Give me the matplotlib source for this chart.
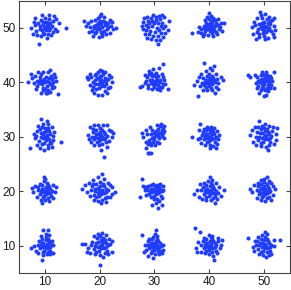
import matplotlib
matplotlib.use("Agg")
import matplotlib.pyplot as plt
import numpy as np

# cluster centres (x, y) and per-cluster point offsets
centers_x = [10, 20, 30, 40, 50]
centers_y = [50, 40, 30, 20, 10]
xticks = [10, 20, 30, 40, 50]
yticks = [10, 20, 30, 40, 50]

c10_50 = [(0,0),(0.5,0.3),(-0.4,0.6),(0.8,-0.5),(-0.9,-0.2),(0.2,1.1),(-0.3,-0.9),(1.2,0.4),(-1.3,0.8),(0.6,-1.2),(-0.7,1.5),(1.5,1.3),(-1.6,-0.6),(0.1,-0.4),(0.9,0.9),(-0.2,0.2),(0.4,-0.1),(-1.0,0.3),(1.8,-0.2),(-2.0,1.0),(-2.6,0.0),(2.5,0.9),(3.8,0.0),(-1.1,-2.9),(-0.5,2.4),(0.7,2.3),(1.6,2.1),(-1.8,1.8),(0.3,-1.8),(-0.8,-1.6),(1.1,-1.4),(2.0,1.6),(-2.2,-1.1),(0.0,1.8),(-0.1,-1.2),(1.4,-0.8),(-1.4,-1.3),(0.5,0.8),(-0.6,-0.4),(1.0,0.0),(-1.9,0.5),(2.2,-0.6),(0.3,0.5),(-0.4,1.0),(0.8,1.6)]
c20_50 = [(0,0),(0.4,0.2),(-0.5,-0.3),(0.9,0.5),(-1.0,0.4),(0.2,-0.8),(-0.3,0.9),(1.3,-0.2),(-1.4,-0.6),(0.6,1.2),(-0.8,1.4),(1.6,0.8),(-1.7,0.1),(2.1,0.3),(-2.2,0.9),(-2.9,1.2),(2.9,0.0),(2.5,-0.3),(0.2,2.6),(0.0,2.1),(-0.4,1.8),(0.7,1.9),(-1.2,-1.5),(0.5,-1.6),(1.1,-1.2),(-0.2,-1.7),(1.9,-0.9),(-2.0,-0.8),(0.3,0.6),(-0.6,0.5),(1.0,1.0),(-1.1,-0.1),(1.5,0.1),(-0.1,-0.3),(0.8,-0.6),(-0.9,-1.0),(2.3,1.0),(-1.6,1.3),(0.1,1.3),(1.8,1.4),(-0.7,-0.7),(0.4,-1.1),(-2.5,0.3),(1.2,0.6),(-0.3,0.3)]
c30_50 = [(-1.5,0.5),(-1.2,1.3),(-0.6,1.8),(0.3,2.0),(1.0,1.6),(1.4,0.9),(1.5,0.0),(1.2,-0.9),(0.6,-1.5),(-0.3,-1.6),(-1.0,-1.2),(-1.6,-0.4),(-2.2,0.3),(-2.0,1.0),(-0.2,2.3),(0.8,2.2),(1.8,1.9),(2.7,1.2),(2.4,-0.4),(0.7,-3.0),(0.3,-2.3),(-0.6,-2.0),(1.6,-1.7),(-1.8,-1.2),(0.0,0.9),(-0.4,0.4),(0.5,0.0),(0.9,-0.5),(-0.8,-0.6),(0.1,-0.7),(-1.1,0.1),(0.6,0.8),(1.9,0.4),(-1.9,1.7),(-1.4,2.0),(1.3,2.4),(0.2,1.4),(-0.5,1.2),(1.0,-2.2),(-1.3,-1.9),(2.0,-1.0),(-2.1,-0.3),(1.2,0.3),(-0.9,0.9)]
c40_50 = [(0,0),(0.4,0.3),(-0.3,-0.2),(0.9,-0.4),(-0.8,-0.6),(0.2,0.8),(0.6,1.2),(-0.1,1.6),(0.3,2.2),(0.0,2.7),(-0.4,2.0),(0.8,1.8),(1.3,0.9),(1.7,0.5),(2.2,0.8),(2.7,0.9),(1.9,-0.3),(1.2,-0.8),(0.5,-1.0),(-0.2,-1.3),(-1.0,-1.1),(-1.5,-0.9),(-2.0,-0.7),(-3.2,-0.9),(-1.4,-0.2),(-1.0,0.4),(-0.6,0.9),(1.0,0.3),(0.1,-0.6),(-0.5,0.3),(1.5,-1.2),(0.8,-1.5),(-1.8,0.2),(2.4,-0.6),(0.5,0.6),(1.1,1.4),(-0.2,0.5),(0.7,-0.1),(-1.2,-1.5),(1.6,1.6),(-0.7,1.4),(0.3,-0.3),(2.0,0.2),(-0.9,-0.1)]
c50_50 = [(0,0),(0.3,0.4),(-0.4,-0.3),(0.8,-0.5),(-0.9,0.6),(0.1,1.1),(-0.2,-1.0),(1.2,0.7),(-1.3,-0.8),(0.6,1.6),(-0.7,2.9),(-0.5,2.3),(0.2,2.5),(0.9,2.0),(1.5,1.4),(1.9,0.3),(2.1,-0.4),(1.6,-1.2),(0.8,-1.8),(0.1,-1.5),(-0.9,-1.7),(-1.5,-2.0),(-2.0,-1.2),(-2.1,0.2),(-1.7,1.1),(-1.2,1.7),(-0.3,1.7),(0.5,0.2),(-0.6,0.1),(1.0,-0.1),(-1.1,-0.2),(0.4,-0.8),(1.4,-0.6),(-0.4,0.8),(0.7,0.9),(1.8,1.8),(-1.6,0.5),(1.1,1.2),(0.0,-0.5),(-0.8,-1.2),(1.9,-1.7),(-0.1,0.5),(0.3,-2.0)]

c10_40 = [(0,0),(0.4,0.3),(-0.5,-0.4),(0.9,-0.3),(-1.0,0.5),(0.2,1.0),(-0.3,-1.0),(1.3,0.6),(-1.4,-0.7),(0.6,-1.4),(-0.7,1.5),(1.6,1.5),(-1.8,1.1),(-3.2,0.0),(2.3,-2.1),(1.0,2.3),(0.5,1.9),(-0.4,1.8),(-1.2,1.9),(1.7,-0.8),(2.0,0.2),(1.9,1.0),(-2.0,-0.2),(-1.6,-1.3),(-0.8,-1.9),(0.1,-1.9),(0.9,-1.7),(-2.3,0.8),(0.7,0.7),(-0.6,0.3),(0.3,-0.6),(-0.2,0.6),(1.2,-1.0),(-1.1,-0.1),(1.5,0.1),(0.0,-1.3),(-0.9,1.0),(0.8,0.1),(-1.5,0.3),(1.1,1.2),(-0.4,-1.4),(0.4,-1.9),(-2.5,1.6),(1.3,-0.5)]
c20_40 = [(0,0),(0.3,0.5),(-0.4,-0.3),(0.8,-0.6),(-0.9,0.4),(0.1,1.2),(-0.2,-1.1),(1.2,0.3),(-1.2,-0.8),(0.6,1.5),(-0.6,1.6),(1.5,-1.1),(-1.6,0.9),(-2.4,1.0),(-2.2,0.6),(-1.8,-0.5),(2.2,0.1),(2.0,0.9),(1.9,-0.8),(0.0,2.3),(0.4,2.0),(-0.3,1.9),(1.0,1.8),(-1.0,-1.9),(-0.3,-2.4),(0.5,-2.3),(0.9,-1.6),(1.4,-2.0),(-1.4,-1.5),(0.4,-0.3),(-0.5,0.8),(0.9,0.8),(-0.8,-0.4),(0.2,-0.7),(1.5,0.6),(-1.3,0.1),(0.6,0.2),(-0.1,0.6),(1.1,-0.3),(-0.6,-1.3),(1.7,1.3),(-1.7,1.6),(0.3,1.1),(-0.9,1.3)]
c30_40 = [(0,0),(0.4,0.2),(-0.3,-0.3),(0.7,-0.5),(-0.8,0.4),(0.2,0.9),(0.0,-0.8),(1.1,0.5),(-1.1,-0.5),(0.6,1.2),(-0.5,1.2),(1.3,-0.8),(-1.4,0.9),(-2.6,-0.9),(-2.3,-0.6),(2.4,-1.2),(1.5,3.4),(0.9,2.7),(-0.2,2.4),(-0.9,2.0),(-0.6,1.7),(0.3,1.7),(1.3,1.5),(1.8,0.4),(1.9,-0.4),(-1.7,-0.1),(-1.2,-1.0),(-0.4,-1.3),(0.5,-1.3),(1.1,-1.5),(-1.8,1.3),(0.5,0.5),(-0.4,0.5),(1.0,0.0),(-0.7,-0.1),(0.1,0.3),(1.5,0.9),(-1.0,1.5),(0.2,-0.4),(0.8,-0.9),(-1.5,0.2),(1.6,-0.3),(0.0,1.3),(-0.2,0.1)]
c40_40 = [(0,0),(0.3,0.3),(-0.3,-0.2),(0.6,-0.4),(-0.6,0.4),(0.1,0.8),(0.0,-0.7),(0.9,0.4),(-0.9,-0.5),(0.5,1.1),(-0.4,1.2),(1.2,-0.9),(-1.2,0.8),(-2.7,-0.5),(-2.2,0.2),(2.6,0.4),(2.1,1.0),(-0.9,3.5),(0.9,3.0),(0.1,2.6),(-0.6,2.1),(0.6,2.2),(1.3,1.6),(-1.5,1.5),(-2.0,-2.6),(-1.2,-1.5),(-0.3,-1.4),(0.5,-1.5),(1.0,-2.0),(1.7,-1.2),(1.6,-0.2),(-1.6,-0.6),(0.4,0.0),(-0.2,0.5),(0.7,0.8),(-0.8,0.1),(0.2,-0.3),(1.1,0.1),(-0.5,-0.9),(0.3,-1.0),(-1.3,-0.1),(1.5,0.6),(0.0,1.6),(-1.8,0.9)]
c50_40 = [(0,0),(0.3,0.4),(-0.4,-0.3),(0.7,-0.5),(-0.7,0.5),(0.2,1.0),(-0.1,-0.9),(1.0,0.3),(-1.0,-0.6),(0.5,1.3),(-0.6,1.3),(1.1,-1.0),(-1.2,0.9),(-2.9,1.4),(-2.6,0.9),(1.9,1.8),(1.8,-1.0),(-1.6,1.3),(-0.3,1.8),(0.4,1.9),(1.2,1.1),(1.5,0.2),(1.4,-0.5),(-1.5,-0.2),(-1.3,-1.0),(-0.6,-1.4),(0.2,-1.5),(0.8,-1.6),(0.0,-2.6),(0.4,-2.4),(-0.9,-1.9),(0.5,0.2),(-0.3,0.6),(0.8,0.8),(-0.8,0.0),(0.1,-0.4),(0.6,-1.0),(-0.2,0.2),(1.3,0.7),(-1.1,0.3),(0.9,-0.2),(-0.4,-1.0),(0.0,1.4)]

c10_30 = [(0,0),(0.3,0.4),(-0.4,-0.3),(0.7,-0.5),(-0.7,0.6),(0.1,1.1),(-0.2,-1.1),(1.0,0.5),(-1.1,-0.7),(0.5,1.6),(-0.6,1.7),(1.1,-1.2),(-1.4,1.0),(-0.8,3.3),(0.4,2.8),(0.6,2.3),(-0.3,2.4),(-2.0,0.5),(-1.8,-0.3),(-2.8,-2.0),(-1.5,-1.5),(-0.9,-2.0),(-0.2,-2.5),(0.6,-2.1),(1.2,-1.8),(2.9,-0.9),(1.5,0.2),(1.6,0.9),(1.3,1.8),(-1.2,2.0),(0.4,0.0),(-0.3,0.5),(0.8,1.0),(-0.8,-0.1),(0.2,-0.6),(0.9,-0.9),(-0.5,-1.4),(1.4,-0.6),(-1.0,1.4),(0.0,1.6),(-1.6,0.2),(0.5,-1.5),(-0.1,0.9)]
c20_30 = [(0,0),(0.3,0.3),(-0.4,-0.2),(0.7,-0.4),(-0.7,0.5),(0.1,0.9),(-0.1,-0.8),(1.0,0.5),(-1.0,-0.5),(0.5,1.3),(-0.6,1.3),(1.2,-0.9),(-1.3,0.8),(-2.2,0.4),(-2.0,-0.4),(2.4,0.7),(2.2,-0.1),(-1.0,2.2),(-0.4,2.2),(0.6,2.1),(1.3,2.2),(1.7,1.3),(1.7,-0.7),(-1.6,-0.9),(-1.0,-1.5),(-0.2,-1.6),(0.5,-1.4),(1.3,-1.8),(0.7,-3.7),(0.3,-2.4),(-1.7,1.7),(0.4,0.0),(-0.3,0.5),(0.8,0.9),(-0.8,0.0),(0.2,-0.5),(1.4,0.2),(-1.4,-0.1),(0.0,1.6),(-0.5,-1.0),(1.0,-0.2),(-1.2,1.4),(2.0,1.0)]
c30_30 = [(0,0),(0.4,0.4),(-0.3,-0.3),(0.8,-0.2),(-0.6,0.5),(0.3,1.0),(-0.2,-0.9),(1.1,0.7),(-1.0,-0.6),(0.7,1.4),(-0.4,1.3),(1.4,0.1),(-1.3,0.5),(1.8,1.0),(1.6,1.6),(1.0,1.9),(0.4,2.1),(1.2,2.3),(-0.8,1.8),(-2.3,0.6),(-2.1,-0.1),(-1.6,-0.9),(-1.1,-1.4),(-0.6,-1.6),(0.1,-1.6),(-1.2,-2.9),(-0.9,-2.9),(-0.6,-2.9),(-1.5,-2.1),(0.5,-0.9),(1.7,-0.3),(0.9,-1.1),(-1.6,1.2),(0.2,0.3),(0.9,0.6),(-0.5,-0.2),(1.3,1.2),(0.6,0.1),(-0.1,0.7),(1.5,0.6),(-0.8,-1.1),(0.0,-0.5),(1.7,2.0)]
c40_30 = [(0,0),(0.3,0.3),(-0.4,-0.2),(0.6,-0.4),(-0.6,0.5),(0.1,0.9),(-0.1,-0.8),(0.9,0.5),(-0.9,-0.5),(0.5,1.2),(-0.5,1.2),(1.1,-0.9),(-1.2,0.9),(-3.2,0.0),(-2.0,-0.4),(-1.6,2.3),(-1.9,1.2),(1.8,0.4),(1.7,-0.5),(1.5,1.1),(0.4,1.8),(-0.3,1.8),(0.9,1.6),(-1.4,-1.2),(-0.7,-1.5),(0.1,-1.6),(0.8,-1.7),(1.2,-2.1),(0.2,-2.1),(-1.6,-0.2),(0.4,0.0),(-0.3,0.5),(0.7,0.8),(-0.8,0.1),(0.2,-0.5),(1.3,0.0),(-1.3,0.3),(0.0,1.5),(-0.4,-1.0),(1.0,-0.3),(-1.0,1.5),(1.4,-1.3)]
c50_30 = [(0,0),(0.3,0.4),(-0.4,-0.3),(0.7,-0.4),(-0.7,0.6),(0.2,1.0),(-0.1,-0.9),(1.0,0.5),(-1.0,-0.6),(0.5,1.4),(-0.6,1.4),(1.2,-1.0),(-1.3,0.9),(-0.9,2.8),(0.3,2.4),(1.0,2.0),(1.7,1.7),(2.4,1.6),(2.2,0.5),(2.3,-0.6),(1.9,-1.3),(0.8,-2.5),(0.4,-1.9),(-0.5,-1.7),(-1.4,-1.5),(-2.0,-0.9),(-2.6,0.3),(-2.2,1.2),(-1.6,1.8),(-0.4,2.0),(0.4,0.1),(-0.3,0.6),(0.8,0.9),(-0.8,0.0),(0.2,-0.5),(1.4,0.2),(-1.5,-0.1),(0.0,1.6),(-0.6,-1.1),(1.1,-0.2),(1.5,1.0),(-1.1,1.8),(0.9,-1.5)]

c10_20 = [(0,0),(0.3,0.3),(-0.4,-0.2),(0.6,-0.4),(-0.6,0.5),(0.1,0.8),(-0.1,-0.8),(0.9,0.4),(-0.9,-0.5),(0.5,1.1),(-0.5,1.1),(1.1,-0.9),(-1.2,0.8),(-0.2,2.7),(0.0,2.3),(-0.1,1.8),(-2.4,0.6),(-2.2,-0.2),(2.0,0.7),(1.8,-0.1),(1.5,1.2),(-1.5,-1.1),(-0.8,-1.6),(0.0,-1.6),(0.8,-1.7),(-0.5,-2.2),(-1.8,0.9),(1.4,-1.3),(0.4,0.0),(-0.3,0.5),(0.7,0.8),(-0.8,0.1),(0.2,-0.5),(1.3,0.1),(-1.3,0.2),(0.3,1.5),(-0.4,-1.1),(1.0,-0.3),(-1.0,1.3),(0.6,-1.2)]
c20_20 = [(0,0),(0.4,0.3),(-0.4,-0.3),(0.8,-0.4),(-0.8,0.5),(0.1,1.0),(-0.1,-0.9),(1.1,0.5),(-1.1,-0.6),(0.6,1.4),(-0.6,1.4),(1.3,-1.0),(-1.4,0.9),(-3.3,0.5),(-2.6,1.1),(-2.3,-0.2),(2.8,-0.1),(2.2,0.8),(1.9,-1.0),(0.5,3.2),(-0.4,2.6),(0.8,2.2),(-1.3,2.0),(1.5,1.6),(-1.8,-0.9),(-1.1,-1.6),(-0.3,-1.7),(0.4,-1.6),(1.1,-1.9),(0.2,-2.2),(-2.0,1.6),(1.9,1.2),(0.4,0.0),(-0.3,0.6),(0.8,0.9),(-0.9,0.0),(0.2,-0.5),(1.5,0.2),(-1.6,0.2),(0.1,1.7),(-0.6,-1.1),(1.1,-0.2),(-1.2,1.4),(0.9,-1.2),(2.3,-0.5),(-0.2,0.3)]
c30_20 = [(0,0),(0.4,0.3),(-0.4,-0.2),(0.7,-0.4),(-0.7,0.5),(0.1,0.9),(-0.1,-0.8),(1.0,0.5),(-1.0,-0.5),(0.5,1.1),(-0.6,1.2),(1.2,-0.8),(-1.3,0.8),(-2.3,2.3),(-2.1,0.9),(-2.7,-1.0),(-1.8,0.2),(1.6,0.2),(1.5,1.0),(1.0,1.3),(-0.2,1.4),(0.5,-1.4),(0.9,-1.7),(0.2,-2.1),(0.6,-3.0),(1.3,-2.6),(-0.4,-2.6),(0.0,-1.4),(-1.5,-0.6),(1.4,-1.3),(0.4,0.0),(-0.3,0.5),(0.8,0.8),(-0.8,0.1),(0.2,-0.5),(1.3,0.0),(-1.4,0.3),(-0.6,-1.0),(0.9,-0.2),(-1.1,1.0),(0.3,0.7),(-1.8,0.8)]
c40_20 = [(0,0),(0.3,0.3),(-0.4,-0.2),(0.6,-0.4),(-0.6,0.5),(0.1,0.9),(-0.1,-0.8),(0.9,0.5),(-0.9,-0.5),(0.5,1.2),(-0.5,1.2),(1.1,-0.9),(-1.2,0.8),(0.1,2.7),(0.5,2.1),(-0.2,1.9),(-2.7,-0.5),(-2.3,0.3),(-1.9,-1.1),(2.8,0.2),(1.9,0.7),(1.7,-0.4),(1.5,-1.4),(1.0,-2.1),(0.3,-1.6),(-0.5,-1.6),(-1.3,-1.4),(-1.6,1.3),(1.3,1.5),(0.4,0.0),(-0.3,0.5),(0.7,0.8),(-0.8,0.1),(0.2,-0.5),(1.3,0.1),(-1.4,0.2),(0.3,1.6),(-0.5,-1.0),(1.0,-0.3),(-1.0,1.5),(0.7,-1.2),(2.1,-0.8)]
c50_20 = [(0,0),(0.3,0.4),(-0.4,-0.3),(0.6,-0.4),(-0.6,0.6),(0.1,1.0),(-0.1,-0.9),(0.9,0.5),(-0.9,-0.5),(0.5,1.3),(-0.5,1.4),(1.0,-1.0),(-1.1,0.9),(0.5,2.6),(0.0,2.2),(-0.6,2.0),(0.9,1.9),(-2.6,0.5),(-2.2,-0.2),(-1.8,1.1),(2.1,0.4),(1.6,0.9),(1.6,-0.6),(1.3,-1.6),(0.3,-1.8),(-0.5,-1.6),(-1.2,-1.2),(0.6,-1.3),(0.4,0.0),(-0.3,0.5),(0.7,0.8),(-0.8,0.1),(0.2,-0.5),(1.2,0.1),(-1.3,0.3),(0.1,1.7),(-0.4,-1.1),(1.0,-0.2),(-1.0,1.5),(1.4,1.5)]

c10_10 = [(0,0),(0.3,0.4),(-0.4,-0.3),(0.6,-0.4),(-0.6,0.5),(0.1,1.0),(-0.1,-0.9),(0.9,0.5),(-0.9,-0.5),(0.5,1.3),(-0.5,1.3),(1.0,-1.0),(-1.1,0.8),(-0.3,2.9),(0.6,2.8),(0.2,2.2),(-2.6,-0.4),(-2.0,0.0),(-1.6,-0.9),(1.5,0.2),(1.3,0.9),(1.4,-1.4),(0.9,-1.6),(0.3,-1.6),(-0.3,-1.7),(-0.5,-2.6),(-1.2,-1.4),(0.8,1.9),(-0.8,1.7),(0.4,0.0),(-0.3,0.5),(0.7,0.8),(-0.8,0.1),(0.2,-0.5),(1.1,0.1),(-1.2,0.2),(0.1,1.6),(-0.4,-1.1),(1.0,-0.3),(0.5,-1.1)]
c20_10 = [(0,0),(0.4,0.3),(-0.4,-0.3),(0.8,-0.4),(-0.7,0.5),(0.2,1.0),(-0.1,-0.9),(1.1,0.5),(-1.1,-0.6),(0.6,1.4),(-0.5,1.4),(1.3,-1.0),(-1.4,0.7),(-3.2,0.3),(-2.6,0.3),(-2.2,-0.4),(-2.4,-1.1),(2.3,-1.2),(2.3,0.8),(1.8,0.3),(-0.3,2.2),(0.4,2.4),(1.2,2.0),(1.7,1.3),(-1.0,1.8),(-1.7,-1.3),(-0.8,-1.6),(0.0,-1.7),(0.6,-2.1),(0.1,-3.5),(1.5,-1.6),(0.4,0.0),(-0.3,0.6),(0.8,0.9),(-0.9,0.0),(0.2,-0.5),(1.5,0.2),(-1.6,0.2),(0.1,1.7),(-0.6,-1.1),(1.1,-0.2),(0.9,-1.3),(1.0,1.1),(0.5,0.5)]
c30_10 = [(0,0),(0.3,0.3),(-0.4,-0.2),(0.7,-0.4),(-0.6,0.5),(0.2,0.9),(-0.1,-0.8),(1.0,0.5),(-1.0,-0.5),(0.5,1.3),(-0.4,1.2),(1.1,-0.9),(-1.2,0.8),(-2.3,1.9),(0.3,2.9),(0.1,2.2),(0.5,1.8),(-1.8,0.2),(-1.6,-0.7),(-1.9,-1.1),(1.6,-0.8),(1.5,0.1),(1.3,-1.3),(0.9,-1.5),(0.1,-1.5),(-0.6,-1.4),(-1.2,-1.8),(-0.3,-2.2),(0.4,0.0),(-0.3,0.5),(0.7,0.8),(-0.8,0.1),(0.2,-0.5),(1.2,0.0),(-1.3,0.2),(-0.2,1.6),(-0.5,-1.0),(0.8,-0.2),(0.6,-1.0),(-0.9,1.2)]
c40_10 = [(0,0),(0.3,0.3),(-0.4,-0.2),(0.7,-0.4),(-0.6,0.5),(0.1,0.9),(-0.1,-0.8),(1.0,0.5),(-1.0,-0.5),(0.5,1.2),(-0.5,1.2),(1.2,-0.9),(-1.2,0.8),(-2.5,3.3),(-1.7,2.6),(-0.1,1.9),(0.5,1.8),(-2.4,-0.4),(-2.1,0.6),(-2.2,-1.1),(2.3,1.1),(2.1,0.2),(2.0,-0.4),(1.7,1.4),(1.4,-1.3),(0.9,-2.6),(0.7,-1.9),(0.0,-1.6),(-0.7,-1.4),(-1.4,-1.2),(0.4,0.0),(-0.3,0.5),(0.8,0.8),(-0.8,0.1),(0.2,-0.5),(1.3,0.1),(-1.4,0.2),(0.3,1.6),(-0.5,-1.0),(1.0,-0.3),(0.6,-1.2),(1.6,0.8),(-1.0,1.5)]
c50_10 = [(0,0),(0.3,0.4),(-0.4,-0.3),(0.7,-0.4),(-0.7,0.5),(0.1,1.0),(-0.1,-0.9),(1.0,0.5),(-1.0,-0.6),(0.5,1.3),(-0.5,1.3),(1.2,-1.0),(-1.2,0.9),(-2.9,1.5),(2.9,1.1),(0.3,2.5),(0.6,2.1),(-0.3,2.0),(1.9,1.1),(1.8,-0.1),(1.4,-1.5),(-1.9,-0.2),(-1.7,-1.0),(-0.9,-1.5),(-0.1,-1.7),(0.4,-2.1),(0.9,-1.7),(-1.6,0.8),(0.4,0.0),(-0.3,0.5),(0.8,0.8),(-0.8,0.1),(0.2,-0.5),(1.3,0.2),(-1.4,0.2),(0.2,1.6),(-0.5,-1.1),(1.1,-0.3),(0.6,-1.2),(-1.1,1.6)]

clusters = [
    [c10_50, c20_50, c30_50, c40_50, c50_50],
    [c10_40, c20_40, c30_40, c40_40, c50_40],
    [c10_30, c20_30, c30_30, c40_30, c50_30],
    [c10_20, c20_20, c30_20, c40_20, c50_20],
    [c10_10, c20_10, c30_10, c40_10, c50_10],
]

plt.rcParams['font.family'] = ['Liberation Sans', 'DejaVu Sans']

W, H = 291, 290
fig = plt.figure(figsize=(W / 100, H / 100), dpi=100)
ax = fig.add_axes([18.5 / W, 17 / H, 271 / W, 272.5 / H])

xs, ys = [], []
for r, cy in enumerate(centers_y):
    for c, cx in enumerate(centers_x):
        pts = np.array(clusters[r][c])
        xs.append(cx + pts[:, 0])
        ys.append(cy + pts[:, 1])
xs = np.concatenate(xs)
ys = np.concatenate(ys)

ax.scatter(xs, ys, s=8.5, color='#1f3cff', linewidths=0)

ax.set_xlim(5.15, 54.7)
ax.set_ylim(5.0, 55.0)
ax.set_xticks(xticks)
ax.set_yticks(yticks)
ax.tick_params(direction='in', length=3, width=0.8, colors='#444444',
               labelcolor='#1a1a1a', labelsize=8.5, top=True, right=True, pad=2)
for s in ax.spines.values():
    s.set_color('#444444')
    s.set_linewidth(0.8)

fig.savefig('out.png', dpi=100)
